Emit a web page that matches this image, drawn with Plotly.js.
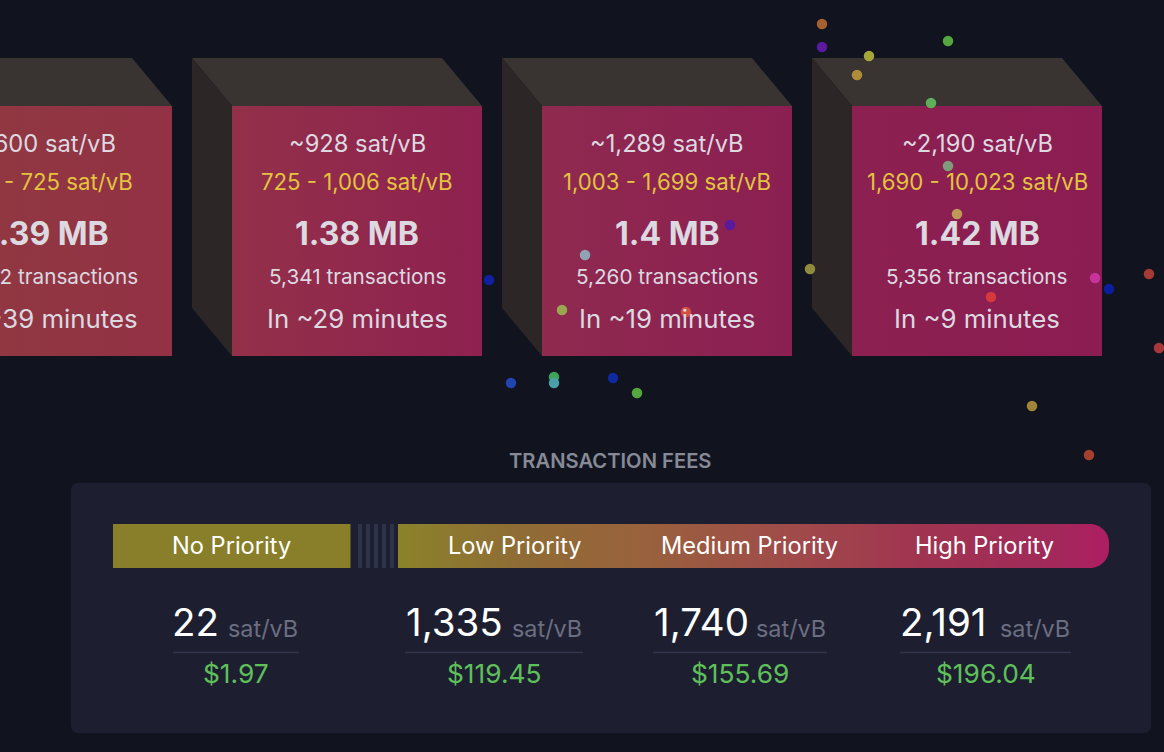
<!DOCTYPE html>
<html><head><meta charset="utf-8">
<style>html,body{margin:0;padding:0;background:#11131f;overflow:hidden}#c{width:1164px;height:752px}</style>
<script src="https://cdn.plot.ly/plotly-3.0.1.min.js"></script></head>
<body><div id="c"></div>
<script>
// ---- chart data ----
const blockMedian = ['~600 sat/vB','~928 sat/vB','~1,289 sat/vB','~2,190 sat/vB'];
const blockRange  = ['601 - 725 sat/vB','725 - 1,006 sat/vB','1,003 - 1,699 sat/vB','1,690 - 10,023 sat/vB'];
const blockSize   = ['1.39 MB','1.38 MB','1.4 MB','1.42 MB'];
const blockTx     = ['5,342 transactions','5,341 transactions','5,260 transactions','5,356 transactions'];
const blockEta    = ['In ~39 minutes','In ~29 minutes','In ~19 minutes','In ~9 minutes'];
const blockColorL = ['#8f3a40','#933049','#8f2a4f','#8c2050'];
const blockColorR = ['#933145','#8e2150','#8b1f52','#8b1d52'];

const dotX = [822,822,869,857,948,931,948,957,730,585,489,810,1095,1109,1149,991,562,686,1159,511,554,554,613,637,1032,1089];
const dotY = [24,47,56,75,41,103,166,214,225,255,280,269,278,289,274,297,310,312,348,383,377,383,378,393,406,455];
const dotColor = ['#a5602f','#5a1a9e','#a4a53a','#b08c3a','#55a63f','#5fae5a','#7f9b7a','#bd9a55','#5a1a9e','#8fa3b5','#10209e','#8f8a3c','#c8329a','#0c1e9e','#a33a34','#d6383e','#99a850','#d35040','#a6383a','#2244b0','#3fa25a','#4a9fa6','#0f2aa0','#55a63f','#a08438','#a5402f'];

const feeTitle = 'TRANSACTION FEES';
const priorityLabels = ['No Priority','Low Priority','Medium Priority','High Priority'];
const feeRates = ['22','1,335','1,740','2,191'];
const feeUnit = 'sat/vB';
const feeUsd = ['$1.97','$119.45','$155.69','$196.04'];
const barStops = [[0,'#8b822b'],[0.17,'#8f6c35'],[0.34,'#99623c'],[0.56,'#a04a4a'],[0.73,'#a03550'],[0.92,'#a2295a'],[1,'#ae1e62']];

// ---- layout constants ----
const blockLeft = [-78,232,542,852], bTop = 106, bBot = 356, bW = 250, dx = 40, dy = 48;
const lineY = [143,181.5,233,276.5,318.5];
const colLeft = [173,405,653,900], colRight = [299,583,827,1071];
const rateLeft = [171,405,653,899], unitLeft = [226.5,510.5,755,999];
const priorityX = [231.5,515,749.5,984];
const stripeX = [358,366,374,382,390];

const traces = [];
function poly(x,y,extra){traces.push(Object.assign({type:'scatter',mode:'lines',x,y,fill:'toself',line:{width:0,simplify:false},hoverinfo:'skip',showlegend:false},extra));}

blockLeft.forEach((l,i)=>{
  const r=l+bW;
  poly([l-dx,l-dx+bW,r,l,l-dx],[bTop-dy,bTop-dy,bTop,bTop,bTop-dy],{fillcolor:'#393432'});
  poly([l-dx,l,l,l-dx,l-dx],[bTop-dy,bTop,bBot,bBot-dy,bTop-dy],{fillcolor:'#2c2726'});
  poly([l,r,r,l,l],[bTop,bTop,bBot,bBot,bTop],{fillgradient:{type:'horizontal',colorscale:[[0,blockColorL[i]],[1,blockColorR[i]]]}});
});

// No-priority bar
poly([113,350.5,350.5,113,113],[524,524,568,568,524],{fillcolor:'#897f2a'});
// Fee gradient bar with rounded right corners
(function(){
  const xs=[398],ys=[524],R=19,cx=1109-R;
  for(let a=-90;a<=0;a+=6){xs.push(cx+R*Math.cos(a*Math.PI/180));ys.push(524+R+R*Math.sin(a*Math.PI/180));}
  for(let a=0;a<=90;a+=6){xs.push(cx+R*Math.cos(a*Math.PI/180));ys.push(568-R+R*Math.sin(a*Math.PI/180));}
  xs.push(398,398);ys.push(568,524);
  poly(xs,ys,{fillgradient:{type:'horizontal',colorscale:barStops}});
})();

// Dots
traces.push({type:'scatter',mode:'markers',x:dotX,y:dotY,marker:{size:10.5,color:dotColor,line:{width:0}},hoverinfo:'skip',showlegend:false});

const F='Inter, sans-serif';
const ann=[];
function t(x,y,text,size,color,anchor,weight){ann.push({x,y,text,xref:'x',yref:'y',showarrow:false,xanchor:anchor||'center',yanchor:'middle',borderpad:0,font:{family:F,size,color,weight:weight||400}});}
blockLeft.forEach((l,i)=>{
  const c=l+125;
  t(c,lineY[0],blockMedian[i],23.7,'#dcd9e0');
  t(c,lineY[1],blockRange[i],22.2,'#e4c33f');
  t(c,lineY[2],blockSize[i],32,'#dcd9e0',null,700);
  t(c,lineY[3],blockTx[i],20.7,'#dcd9e0');
  t(c,lineY[4],blockEta[i],25.8,'#dcd9e0');
});
t(610.5,460.5,feeTitle,20.2,'#868a96',null,600);
priorityLabels.forEach((p,i)=>t(priorityX[i],545.5,p,23.6,'#ffffff'));
feeRates.forEach((v,i)=>{
  t(rateLeft[i],622,v,38.5,'#ffffff','left');
  t(unitLeft[i],628,feeUnit,23.4,'#6b6e80','left');
  t((colLeft[i]+colRight[i])/2,673,feeUsd[i],26.3,'#5fc05a');
});

const shapes=[{type:'path',path:'M 79 483 L 1143 483 Q 1151 483 1151 491 L 1151 725 Q 1151 733 1143 733 L 79 733 Q 71 733 71 725 L 71 491 Q 71 483 79 483 Z',fillcolor:'#1d1f31',line:{width:0},layer:'below'}];
stripeX.forEach(x=>shapes.push({type:'rect',x0:x,x1:x+4,y0:524,y1:568,fillcolor:'#2d3348',line:{width:0},layer:'below'}));
colLeft.forEach((x,i)=>shapes.push({type:'line',x0:x,x1:colRight[i],y0:652.5,y1:652.5,line:{color:'#33364a',width:1.5},layer:'below'}));

Plotly.newPlot('c',traces,{
  width:1164,height:752,margin:{l:0,r:0,t:0,b:0},paper_bgcolor:'#11131f',plot_bgcolor:'#11131f',showlegend:false,
  xaxis:{range:[0,1164],visible:false,fixedrange:true},
  yaxis:{range:[752,0],visible:false,fixedrange:true},
  shapes,annotations:ann,hovermode:false
},{displayModeBar:false,staticPlot:true});
</script></body></html>
